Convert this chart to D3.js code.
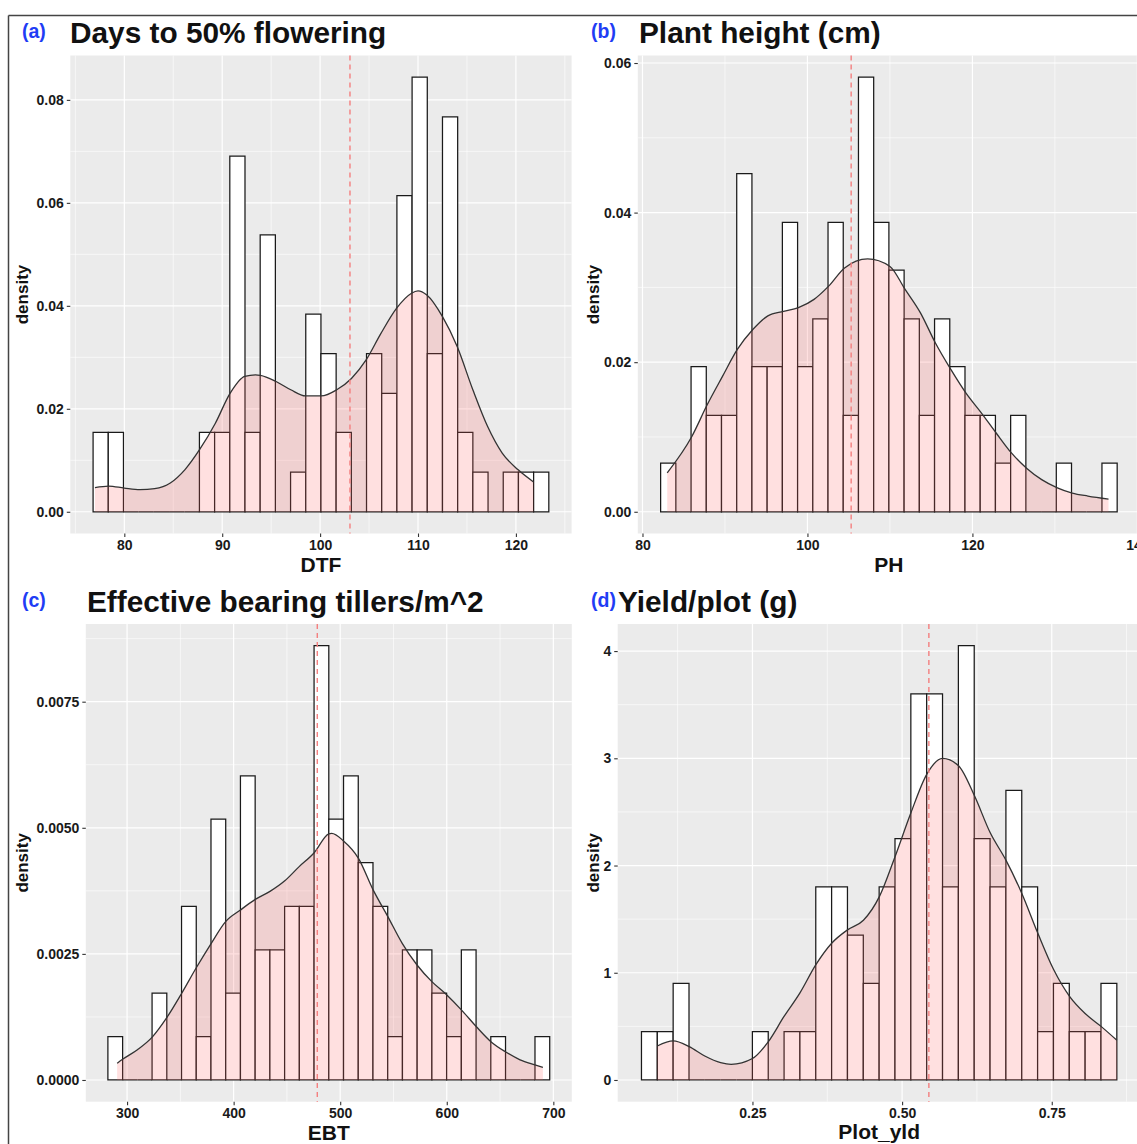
<!DOCTYPE html>
<html>
<head>
<meta charset="utf-8">
<script src="https://cdn.jsdelivr.net/npm/d3@7"></script>
<style>
  html, body { margin: 0; padding: 0; background: #fff; }
  text { font-family: "Liberation Sans", Arial, sans-serif; }
</style>
</head>
<body>
<svg id="fig" width="1137" height="1144"></svg>
<script>
// ---- (a) Days to 50% flowering ----
const dtfBinStart = 76.81, dtfBinWidth = 1.5517;
const dtfDensity = [0.0154, 0.0154, 0, 0, 0, 0, 0, 0.0154, 0.0154, 0.0691,
  0.0154, 0.0538, 0, 0.0077, 0.0384, 0.0307, 0.0154, 0, 0.0307, 0.0230,
  0.0614, 0.0844, 0.0307, 0.0767, 0.0154, 0.0077, 0, 0.0077, 0.0077, 0.0077];
const dtfCurveX = [77, 78.4, 80, 81.6, 83.1, 84.7, 86.2, 87.7, 89.3, 90.8, 92.3, 93.4, 93.9, 95.5, 97,
  98.5, 100.1, 101.7, 103.2, 104.7, 106.2, 107.8, 109.3, 110, 110.9, 112.5, 114, 115.6, 117.1,
  118.6, 120.2, 121.8];
const dtfCurveY = [0.0047, 0.0050, 0.0046, 0.0043, 0.0045, 0.0056, 0.0082, 0.0121, 0.0172, 0.0230,
  0.0263, 0.0266, 0.0265, 0.0253, 0.0237, 0.0225, 0.0225, 0.0237, 0.0259, 0.0295, 0.0346, 0.0395,
  0.0424, 0.0429, 0.0421, 0.0379, 0.0321, 0.0237, 0.0166, 0.0114, 0.0082, 0.0058];
const dtfMean = 103.05;
const dtfXTicks = [80, 90, 100, 110, 120];
const dtfYTicks = [0, 0.02, 0.04, 0.06, 0.08];

// ---- (b) Plant height ----
const phBinStart = 82.2, phBinWidth = 1.845;
const phDensity = [0.0065, 0, 0.0194, 0.0129, 0.0129, 0.0452, 0.0194, 0.0194, 0.0387, 0.0194,
  0.0258, 0.0387, 0.0129, 0.0581, 0.0387, 0.0323, 0.0258, 0.0129, 0.0258, 0.0194,
  0.0129, 0.0129, 0.0065, 0.0129, 0, 0, 0.0065, 0, 0, 0.0065];
const phCurveX = [83, 86, 87.8, 89.7, 91.5, 93.4, 95.2, 97.1, 98.9, 100.8, 102.6, 104.5, 107.3, 110,
  111.8, 113.7, 115.5, 117.4, 119.2, 121.1, 122.9, 124.7, 126.6, 128.4, 130.3, 132.1, 134, 136.5];
const phCurveY = [0.0052, 0.0101, 0.0142, 0.0181, 0.0217, 0.0244, 0.0262, 0.0268, 0.0273, 0.0284,
  0.0302, 0.0326, 0.0338, 0.0328, 0.0298, 0.0266, 0.0226, 0.0190, 0.0159, 0.0132, 0.0105, 0.0079,
  0.0058, 0.0043, 0.0032, 0.0025, 0.0021, 0.0017];
const phMean = 105.3;
const phXTicks = [80, 100, 120, 140];
const phYTicks = [0, 0.02, 0.04, 0.06];

// ---- (c) Effective bearing tillers ----
const ebtBinStart = 282, ebtBinWidth = 13.82;
const ebtDensity = [0.00086, 0, 0, 0.00172, 0, 0.00344, 0.00086, 0.00517, 0.00172, 0.00603,
  0.00258, 0.00258, 0.00344, 0.00344, 0.00861, 0.00517, 0.00603, 0.00431, 0.00344, 0.00086,
  0.00258, 0.00258, 0.00172, 0.00086, 0.00258, 0, 0.00086, 0, 0, 0.00086];
const ebtCurveX = [290.7, 295.8, 309.7, 323.6, 337.4, 351, 364.8, 378.7, 392.5, 406.4, 420.3, 434.1,
  448, 461.5, 475.4, 489.3, 492, 503.1, 517, 530.9, 544.7, 558.2, 572.1, 586, 599.8, 613.7, 627.6,
  641.4, 655, 668.8, 682.7, 690.2];
const ebtCurveY = [0.00033, 0.00041, 0.0006, 0.00085, 0.00124, 0.00171, 0.00222, 0.0027, 0.00314,
  0.00337, 0.00358, 0.00374, 0.00395, 0.00423, 0.0045, 0.00488, 0.00489, 0.00474, 0.0044, 0.00377,
  0.00324, 0.00271, 0.00228, 0.00195, 0.00169, 0.00139, 0.00106, 0.00076, 0.00056, 0.0004, 0.0003,
  0.00025];
const ebtMean = 478.5;
const ebtXTicks = [300, 400, 500, 600, 700];
const ebtYTicks = [0, 0.0025, 0.005, 0.0075];

// ---- (d) Yield per plot ----
const yldBinStart = 0.0646, yldBinWidth = 0.02647;
const yldDensity = [0.45, 0.45, 0.90, 0, 0, 0, 0, 0.45, 0, 0.45,
  0.45, 1.80, 1.80, 1.35, 0.90, 1.80, 2.25, 3.60, 3.60, 1.80,
  4.05, 2.25, 1.80, 2.70, 1.80, 0.45, 0.90, 0.45, 0.45, 0.90];
const yldCurveX = [0.0911, 0.1177, 0.1443, 0.1703, 0.1968, 0.2144, 0.25, 0.2766, 0.3025, 0.3291,
  0.3557, 0.3823, 0.4088, 0.4354, 0.462, 0.488, 0.5146, 0.5411, 0.5677, 0.5943, 0.6209, 0.6468,
  0.6734, 0.70, 0.7266, 0.7531, 0.7797, 0.8057, 0.8323, 0.8588];
const yldCurveY = [0.317, 0.364, 0.311, 0.224, 0.162, 0.146, 0.20, 0.358, 0.59, 0.81, 1.073, 1.275,
  1.40, 1.49, 1.71, 2.08, 2.49, 2.85, 3.0, 2.93, 2.65, 2.31, 2.05, 1.74, 1.37, 1.03, 0.78, 0.62,
  0.50, 0.37];
const yldMean = 0.5447;
const yldXTicks = [0.25, 0.5, 0.75];
const yldYTicks = [0, 1, 2, 3, 4];

const svg = d3.select("#fig");
const FONT = "'Liberation Sans', Arial, sans-serif";

// figure frame (top + left edge of the original border)
svg.append("line").attr("x1", 8.5).attr("x2", 1137).attr("y1", 15.5).attr("y2", 15.5)
  .attr("stroke", "#444").attr("stroke-width", 1.5);
svg.append("line").attr("x1", 8.5).attr("x2", 8.5).attr("y1", 15.5).attr("y2", 1144)
  .attr("stroke", "#444").attr("stroke-width", 1.5);

function minorOf(ticks, dom) {
  const step = ticks[1] - ticks[0];
  const out = [];
  for (let v = ticks[0] - step / 2; v <= dom[1]; v += step) if (v >= dom[0]) out.push(v);
  return out;
}

function drawPanel(p) {
  const nb = p.dens.length;
  const lo = p.binStart, hi = p.binStart + nb * p.binWidth;
  const padX = (hi - lo) * 0.05;
  const yMax = d3.max(p.dens);
  const x = d3.scaleLinear().domain([lo - padX, hi + padX]).range([p.left, p.right]);
  const y = d3.scaleLinear().domain([-yMax * 0.05, yMax * 1.05]).range([p.bottom, p.top]);

  const g = svg.append("g");

  // panel background
  g.append("rect").attr("x", p.left).attr("y", p.top)
    .attr("width", p.right - p.left).attr("height", p.bottom - p.top).attr("fill", "#EBEBEB");

  // grid
  const xMin = minorOf(p.xTicks, x.domain()), yMin = minorOf(p.yTicks, y.domain());
  g.selectAll(".gxm").data(xMin).enter().append("line")
    .attr("x1", d => x(d)).attr("x2", d => x(d)).attr("y1", p.top).attr("y2", p.bottom)
    .attr("stroke", "#fff").attr("stroke-width", 0.6);
  g.selectAll(".gym").data(yMin).enter().append("line")
    .attr("y1", d => y(d)).attr("y2", d => y(d)).attr("x1", p.left).attr("x2", p.right)
    .attr("stroke", "#fff").attr("stroke-width", 0.6);
  g.selectAll(".gx").data(p.xTicks).enter().append("line")
    .attr("x1", d => x(d)).attr("x2", d => x(d)).attr("y1", p.top).attr("y2", p.bottom)
    .attr("stroke", "#fff").attr("stroke-width", 1.2);
  g.selectAll(".gy").data(p.yTicks).enter().append("line")
    .attr("y1", d => y(d)).attr("y2", d => y(d)).attr("x1", p.left).attr("x2", p.right)
    .attr("stroke", "#fff").attr("stroke-width", 1.2);

  // histogram bars (density scale)
  g.selectAll(".bar").data(p.dens).enter().append("path")
    .attr("d", (d, i) => {
      const x0 = x(lo + i * p.binWidth), x1 = x(lo + (i + 1) * p.binWidth);
      return `M${x0},${y(0)}V${y(d)}H${x1}V${y(0)}Z`;
    })
    .attr("fill", "#fff").attr("stroke", "#1a1a1a").attr("stroke-width", 1.25);

  // density curve
  const pts = p.curveX.map((v, i) => [v, p.curveY[i]]);
  g.append("path").datum(pts)
    .attr("d", d3.area().x(d => x(d[0])).y0(y(0)).y1(d => y(d[1])).curve(d3.curveMonotoneX))
    .attr("fill", "#FF6666").attr("fill-opacity", 0.2);
  g.append("path").datum(pts)
    .attr("d", d3.line().x(d => x(d[0])).y(d => y(d[1])).curve(d3.curveMonotoneX))
    .attr("fill", "none").attr("stroke", "#333").attr("stroke-width", 1.3);

  // mean line
  g.append("line").attr("x1", x(p.mean)).attr("x2", x(p.mean))
    .attr("y1", p.top).attr("y2", p.bottom)
    .attr("stroke", "#F47F7F").attr("stroke-width", 1.4).attr("stroke-dasharray", "5,4");

  // axes
  const ax = g.append("g").attr("transform", `translate(0,${p.bottom})`)
    .call(d3.axisBottom(x).tickValues(p.xTicks).tickFormat(p.xFmt).tickSize(3.5).tickPadding(3));
  const ay = g.append("g").attr("transform", `translate(${p.left},0)`)
    .call(d3.axisLeft(y).tickValues(p.yTicks).tickFormat(p.yFmt).tickSize(3.5).tickPadding(3));
  [ax, ay].forEach(a => {
    a.select(".domain").remove();
    a.selectAll(".tick line").attr("stroke", "#333").attr("stroke-width", 1.1);
    a.selectAll(".tick text").attr("fill", "#1a1a1a").attr("font-size", 14)
      .attr("font-weight", "bold").attr("font-family", FONT);
  });

  // titles
  g.append("text").attr("x", (p.left + p.right) / 2).attr("y", p.xTitleY)
    .attr("text-anchor", "middle").attr("font-size", 21).attr("font-weight", "bold")
    .attr("fill", "#111").text(p.xTitle);
  g.append("text")
    .attr("transform", `translate(${p.yTitleX},${(p.top + p.bottom) / 2}) rotate(-90)`)
    .attr("text-anchor", "middle").attr("font-size", 17).attr("font-weight", "bold")
    .attr("fill", "#111").text("density");
  g.append("text").attr("x", p.titleX).attr("y", p.titleY)
    .attr("font-size", 29.8).attr("font-weight", "bold").attr("fill", "#111").text(p.title);
  g.append("text").attr("x", p.tagX).attr("y", p.tagY)
    .attr("font-size", 19.5).attr("font-weight", "bold").attr("fill", "#1F3DF5").text(p.tag);
}

drawPanel({
  binStart: dtfBinStart, binWidth: dtfBinWidth, dens: dtfDensity,
  curveX: dtfCurveX, curveY: dtfCurveY, mean: dtfMean,
  xTicks: dtfXTicks, yTicks: dtfYTicks, xFmt: d3.format("d"), yFmt: d3.format(".2f"),
  left: 70.3, right: 571.6, top: 55.5, bottom: 533.5,
  tag: "(a)", tagX: 22, tagY: 38, title: "Days to 50% flowering", titleX: 70, titleY: 43,
  xTitle: "DTF", xTitleY: 571.5, yTitleX: 28
});
drawPanel({
  binStart: phBinStart, binWidth: phBinWidth, dens: phDensity,
  curveX: phCurveX, curveY: phCurveY, mean: phMean,
  xTicks: phXTicks, yTicks: phYTicks, xFmt: d3.format("d"), yFmt: d3.format(".2f"),
  left: 637.8, right: 1140, top: 55.5, bottom: 533.5,
  tag: "(b)", tagX: 591, tagY: 38, title: "Plant height (cm)", titleX: 639, titleY: 43,
  xTitle: "PH", xTitleY: 571.5, yTitleX: 599
});
drawPanel({
  binStart: ebtBinStart, binWidth: ebtBinWidth, dens: ebtDensity,
  curveX: ebtCurveX, curveY: ebtCurveY, mean: ebtMean,
  xTicks: ebtXTicks, yTicks: ebtYTicks, xFmt: d3.format("d"), yFmt: d3.format(".4f"),
  left: 85.8, right: 571.8, top: 624, bottom: 1101.7,
  tag: "(c)", tagX: 22, tagY: 607, title: "Effective bearing tillers/m^2", titleX: 87, titleY: 611.5,
  xTitle: "EBT", xTitleY: 1140, yTitleX: 28
});
drawPanel({
  binStart: yldBinStart, binWidth: yldBinWidth, dens: yldDensity,
  curveX: yldCurveX, curveY: yldCurveY, mean: yldMean,
  xTicks: yldXTicks, yTicks: yldYTicks, xFmt: d3.format(".2f"), yFmt: d3.format("d"),
  left: 617.7, right: 1140.6, top: 624, bottom: 1101.7,
  tag: "(d)", tagX: 591, tagY: 607, title: "Yield/plot (g)", titleX: 618, titleY: 611.5,
  xTitle: "Plot_yld", xTitleY: 1139, yTitleX: 599
});
</script>
</body>
</html>
